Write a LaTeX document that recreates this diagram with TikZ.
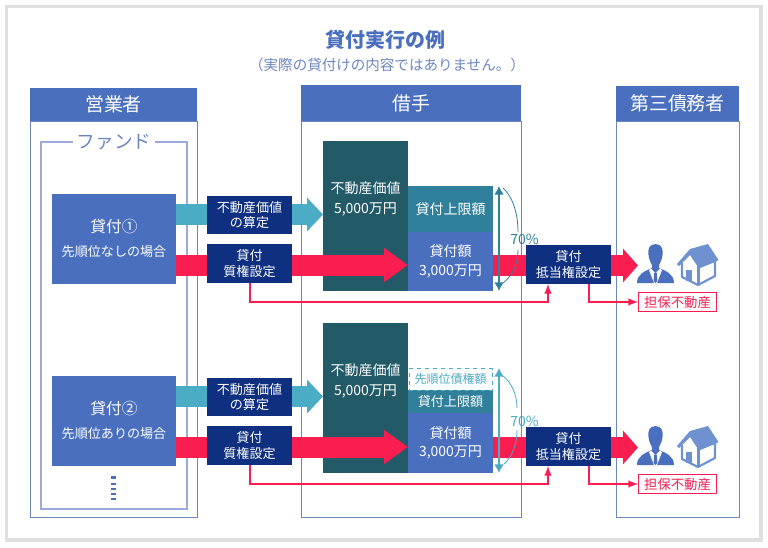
\documentclass[tikz,border=0pt]{standalone}
\usepackage{fontspec}
\usepackage{xcolor}
\setmainfont{Noto Sans CJK JP}
\usetikzlibrary{positioning, arrows.meta}

\definecolor{headblue}{HTML}{4A6FBE}
\definecolor{frameblue}{HTML}{6C86C0}
\definecolor{fundblue}{HTML}{9BABDB}
\definecolor{navy}{HTML}{0F2F80}
\definecolor{petrol}{HTML}{225A68}
\definecolor{teal}{HTML}{31809B}
\definecolor{sky}{HTML}{4BACC6}
\definecolor{crimson}{HTML}{FA1D50}
\definecolor{roofblue}{HTML}{7091D0}

\begin{document}
\begin{tikzpicture}[x=.75pt, y=-.75pt, every node/.style={inner sep=0, outer sep=0, align=center}]

  \tikzstyle{head}=[fill=headblue, text=white, font=\fontsize{14.2pt}{16pt}\selectfont]
  \tikzstyle{body}=[draw=frameblue, line width=.6pt, anchor=north]
  \tikzstyle{loan}=[fill=headblue, text=white, minimum width=93pt, minimum height=68pt]
  \tikzstyle{tag}=[fill=navy, text=white, minimum width=64pt, minimum height=29pt, font=\fontsize{9.8pt}{11.6pt}\selectfont]
  \tikzstyle{stack}=[text=white, minimum width=63.75pt, font=\fontsize{10.5pt}{14pt}\selectfont]
  \tikzstyle{fatsky}=[sky, line width=15.75pt, -{Triangle[length=12pt, width=24.75pt]}]
  \tikzstyle{fatred}=[crimson, line width=15.75pt, -{Triangle[length=18pt, width=24.5pt]}]
  \tikzstyle{thinred}=[crimson, line width=1.5pt, -latex]

  \useasboundingbox (0,0) rectangle (768,547);
  \draw [gray!25, line width=2.8pt] (6.5,6.5) rectangle (761,540);

  \node [text=headblue, font=\bfseries\fontsize{15pt}{16pt}\selectfont] (title) at (385,40) {貸付実行の例};
  \node [text=frameblue, font=\fontsize{10.9pt}{12pt}\selectfont, below = 6pt of title, xshift=1.5pt] (note) {（実際の貸付けの内容ではありません。）};

  \node [head, minimum width=125.25pt, minimum height=24.75pt] (sales) at (113.5,104.5) {営業者};
  \node [body, minimum width=125.25pt, minimum height=297pt] (sales-body) at (sales.south) {};
  \node [head, minimum width=165pt, minimum height=27pt] (borrower) at (411,103) {借手};
  \node [body, minimum width=165pt, minimum height=297pt] (borrower-body) at (borrower.south) {};
  \node [head, minimum width=92.25pt, minimum height=26.25pt] (third) at (677.5,103.5) {第三債務者};
  \node [body, minimum width=92.25pt, minimum height=297pt] (third-body) at (third.south) {};

  \node [draw=fundblue, line width=1.1pt, minimum width=109.5pt, minimum height=275.25pt, anchor=north] (fund) at (114,142) {};
  \node [fill=white, inner xsep=3pt, text=frameblue, font=\fontsize{14pt}{16pt}\selectfont] (fund-label) at (fund.north) {ファンド};

  % rows
  \foreach \r/\dy/\txta/\txtb in {1/0/貸付①/先順位なしの場合, 2/182/貸付②/先順位ありの場合} {
    \node [loan] (loan-\r) at (114,239+\dy) {};
    \node [text=white, font=\fontsize{11.8pt}{14pt}\selectfont] (loan-a-\r) at (114,227+\dy) {\txta};
    \node [text=white, font=\fontsize{9.8pt}{12pt}\selectfont] (loan-b-\r) at (114,252+\dy) {\txtb};

    \node [fill=petrol, stack, minimum height=112.5pt] (land-\r) at (365.5,216+\dy) {};
    \node [text=white, font=\fontsize{10.5pt}{15pt}\selectfont] (land-t-\r) at (365.5,199+\dy) {不動産価値\\5,000万円};

    \coordinate (sky-in-\r) at (323,214.5+\dy);
    \coordinate (red-in-\r) at (408,265+\dy);
    \coordinate (red-out-\r) at (638,265.5+\dy);
  }

  \foreach \r in {1,2} {
    \draw [fatsky] (loan-\r.east |- sky-in-\r) -- (sky-in-\r);
    \draw [fatred] (loan-\r.east |- red-in-\r) -- (red-in-\r);
  }

  % first stack
  \node [stack, fill=headblue, anchor=south west, minimum height=44.25pt] (amount-1) at (land-1.south east) {貸付額\\3,000万円};
  \node [stack, fill=teal, anchor=south, minimum height=34.5pt] (limit-1) at (amount-1.north) {貸付上限額};

  % second stack
  \node [stack, fill=headblue, anchor=south west, minimum height=45pt] (amount-2) at (land-2.south east) {貸付額\\3,000万円};
  \node [stack, fill=teal, anchor=south, minimum height=17.25pt, font=\fontsize{9.8pt}{12pt}\selectfont] (limit-2) at (amount-2.north) {貸付上限額};
  \node [stack, draw=sky, dashed, fill=white, text=sky, anchor=south, minimum width=62.5pt, minimum height=16pt, font=\fontsize{9pt}{11pt}\selectfont] (senior-2) at (limit-2.north) {先順位債権額};

  \foreach \r/\dy/\ink in {1/0/teal, 2/182/sky} {
    \draw [fatred, -{Triangle[length=11.25pt, width=24.75pt]}] (amount-\r.east |- red-out-\r) -- (red-out-\r);

    \node [tag] (sky-tag-\r) at (249.5,215+\dy) {不動産価値\\の算定};
    \node [tag] (pledge-\r) at (249.5,263.5+\dy) {貸付\\質権設定};
    \node [tag] (mortgage-\r) at (568.5,264.5+\dy) {貸付\\抵当権設定};

    \coordinate (span-a-\r) at (499,\dy+186);
    \coordinate (span-b-\r) at (499,\dy+291);
    \draw [\ink, line width=1.5pt, {Latex[length=6.5pt, width=7.5pt]}-{Latex[length=6.5pt, width=7.5pt]}] (span-a-\r) -- (span-b-\r);
    \node [text=\ink, font=\fontsize{10.5pt}{12pt}\selectfont] (pct-\r) at (524.5,239+\dy) {70\%};

    \coordinate (m-in-\r) at ([xshift=-15.4pt]mortgage-\r.south);
    \coordinate (m-out-\r) at ([xshift=15.4pt]mortgage-\r.south);
    \node [draw=crimson, text=crimson, fill=white, line width=.6pt, minimum width=59pt, minimum height=14.5pt, font=\fontsize{10pt}{12pt}\selectfont] (estate-\r) at (677.5,302+\dy) {担保不動産};

    \draw [thinred] (pledge-\r.south) -- ++(0,19.5) -| (m-in-\r);
    \draw [thinred] (m-out-\r) |- (estate-\r);

    % person
    \begin{scope}[shift={(0,\dy)}]
      \fill [headblue] (655.5,244) .. controls (649,244) and (647.5,250) .. (648.5,255) .. controls (649,260) and (651,263) .. (652,265) -- (652,268) .. controls (645,271) and (637,274) .. (637,283) -- (674,283) .. controls (674,274) and (666,271) .. (659,268) -- (659,265) .. controls (660,263) and (662,260) .. (662.5,255) .. controls (663.5,250) and (662,244) .. (655.5,244) -- cycle;
      \fill [white] (651,268.5) -- (655.5,273) -- (660,268.5) -- (662,270) -- (657,283) -- (654,283) -- (649,270) -- cycle;
      \fill [headblue] (654.2,272.5) -- (656.8,272.5) -- (657.4,281) -- (655.5,283) -- (653.6,281) -- cycle;
      % house
      \fill [white] (682,263) -- (690,252) -- (715,258) -- (715,276) -- (698,285) -- (682,277) -- cycle;
      \draw [roofblue, line width=1.6pt, line join=round] (682,263) -- (682,277) -- (698,285) -- (715,276) -- (715,260);
      \draw [roofblue, line width=1.6pt] (698.5,265) -- (698.5,285);
      \fill [roofblue, line join=round] (677,264) -- (690,249) -- (708,244) -- (718.5,260) -- (715,262) -- (699,268.5) -- (690,255) -- (679,266) -- cycle;
      \fill [roofblue] (686,270) rectangle (692,281);
    \end{scope}
  }

  % brackets
  \draw [teal, line width=.6pt] (503,188) .. controls (512,196) and (518,212) .. (518,232);
  \draw [teal, line width=.6pt] (518,250) .. controls (518,265) and (512,276) .. (503,283);
  \draw [sky, line width=.6pt] (503,376) .. controls (511,382) and (517,394) .. (517,408);
  \draw [sky, line width=.6pt] (517,430) .. controls (517,446) and (511,458) .. (504,464);

  % dots under the second loan
  \foreach \y in {477.5,484,489,494,499} {
    \fill [headblue] (111,\y-1.4) rectangle (115.5,\y+1.4);
  }

\end{tikzpicture}
\end{document}
